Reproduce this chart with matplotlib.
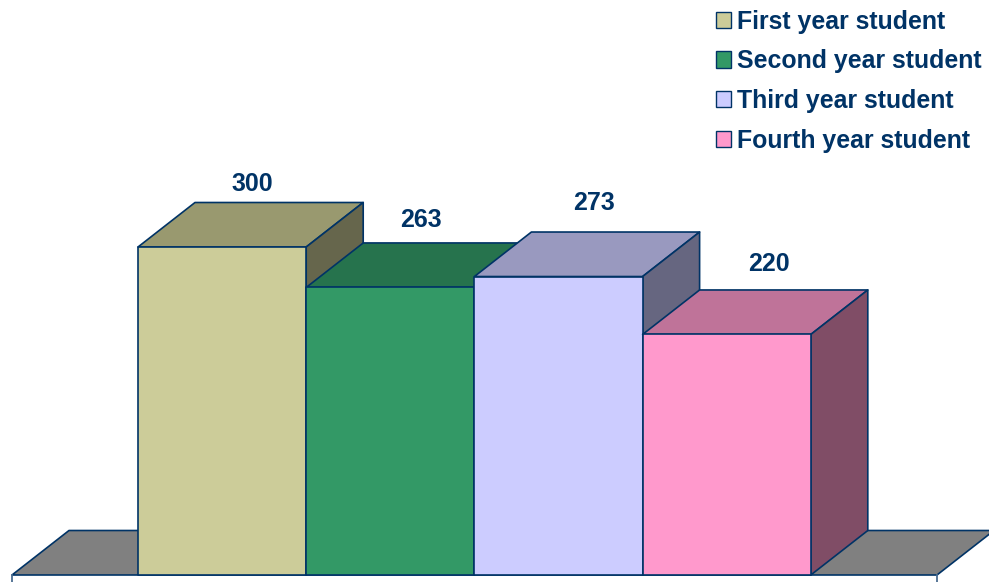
import matplotlib
matplotlib.use('Agg')
import matplotlib.pyplot as plt
from matplotlib.patches import Polygon, Patch

plt.rcParams['font.family'] = ['Liberation Sans', 'DejaVu Sans']

students = ['First year student', 'Second year student', 'Third year student', 'Fourth year student']
counts = [300, 263, 273, 220]
front_colors = ['#CCCC99', '#339966', '#CCCCFF', '#FF99CC']
top_colors = ['#99996F', '#26734D', '#9999BF', '#BF7399']
side_colors = ['#66664C', '#1A4D33', '#666680', '#804D66']

NAVY = '#003366'
BAR_PX = 168.2
UNIT_PX = 328 / 300
# how far the 3d depth goes, in data units
dx = 57 / BAR_PX
dy = 44.5 / UNIT_PX

fig = plt.figure(figsize=(9.89, 5.82), dpi=100)
ax = fig.add_axes([0, 0, 1, 1])
ax.set_xlim(-138 / BAR_PX, (989 - 138) / BAR_PX)
ax.set_ylim(-7 / UNIT_PX, 575 / UNIT_PX)
ax.axis('off')


def face(points, color, z):
    ax.add_patch(Polygon(points, closed=True, facecolor=color, edgecolor=NAVY,
                         linewidth=1.2, joinstyle='round', zorder=z))


# floor
x0 = -126 / BAR_PX
x1 = (937 - 138) / BAR_PX
face([(x0, 0), (x1, 0), (x1 + dx, dy), (x0 + dx, dy)], '#808080', 1)
ax.plot([x0, x0], [0, -10], color='#4A6C90', lw=1.3, zorder=1)
ax.plot([x1, x1], [0, -10], color='#4A6C90', lw=1.3, zorder=1)

for i, v in enumerate(counts):
    z = 2 + i
    face([(i, v), (i + 1, v), (i + 1 + dx, v + dy), (i + dx, v + dy)], top_colors[i], z)
    face([(i + 1, 0), (i + 1 + dx, dy), (i + 1 + dx, v + dy), (i + 1, v)], side_colors[i], z)
    face([(i, 0), (i + 1, 0), (i + 1, v), (i, v)], front_colors[i], z)

# labels sit a bit unevenly in the original
label_x = [252.5, 420.5, 594, 769]
label_y = [184, 220, 203, 264]
for i, v in enumerate(counts):
    ax.text((label_x[i] - 138) / BAR_PX, (575 - label_y[i]) / UNIT_PX, str(v),
            ha='center', va='center', fontsize=18, fontweight='bold', color=NAVY, zorder=10)

handles = [Patch(facecolor=c, edgecolor=NAVY, linewidth=1.0) for c in front_colors]
leg = ax.legend(handles, students, loc='upper left', bbox_to_anchor=(715.5 / 989, 1 - 9.5 / 582),
                frameon=False, borderpad=0, borderaxespad=0, handlelength=0.62, handleheight=0.62,
                handletextpad=0.26, labelspacing=0.635,
                prop={'weight': 'bold', 'size': 17.9})
for t in leg.get_texts():
    t.set_color(NAVY)

fig.savefig('out.png', dpi=100)
